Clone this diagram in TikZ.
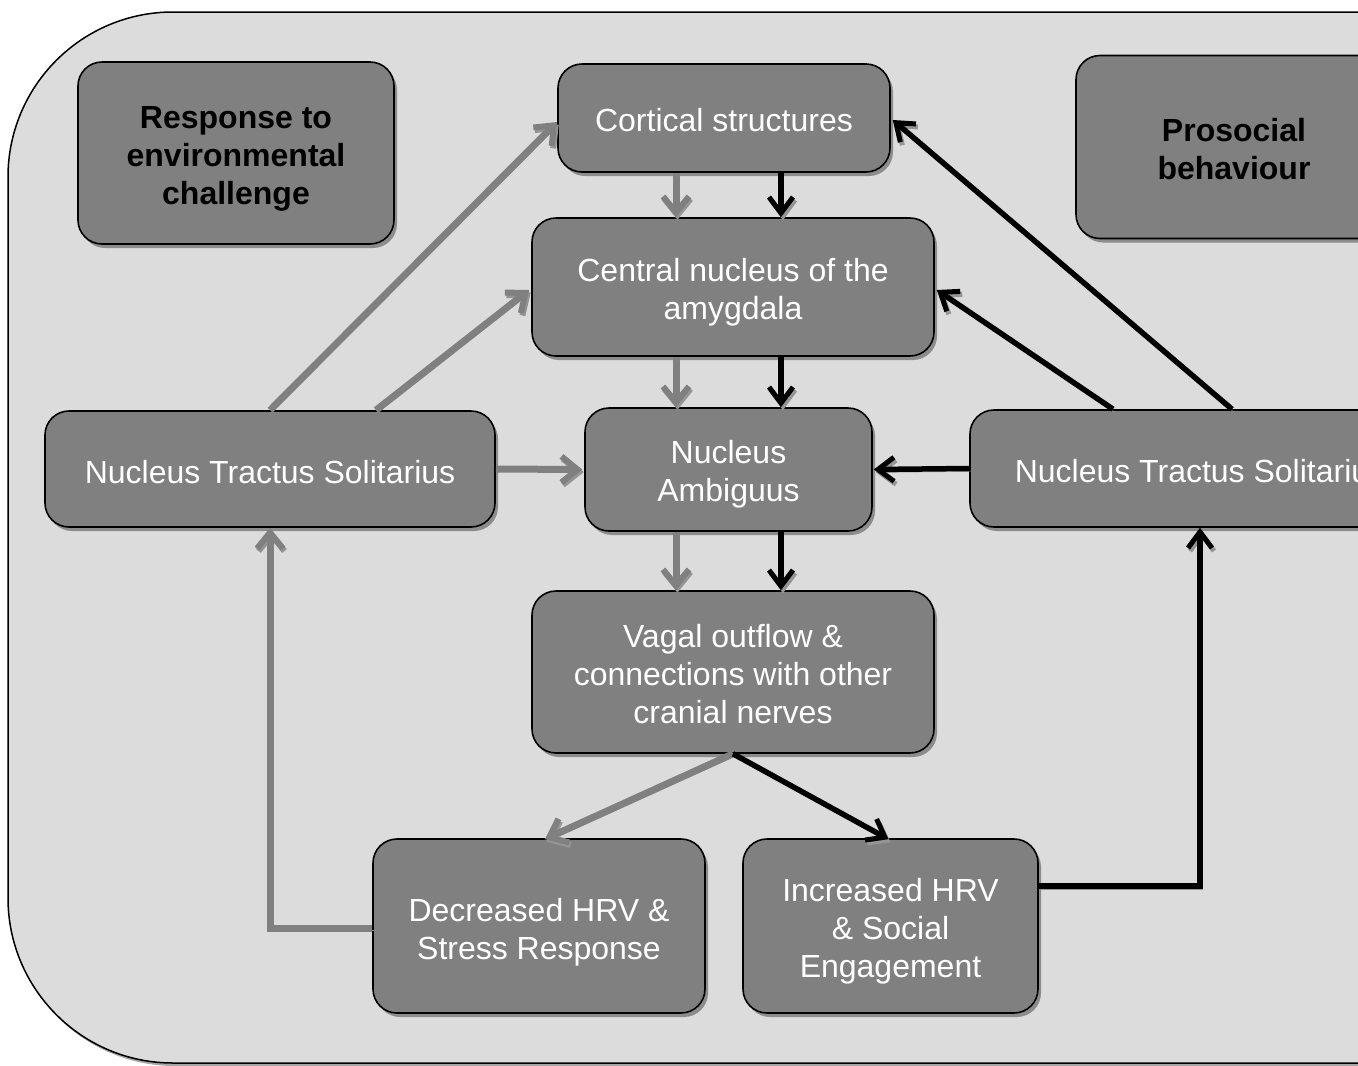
\documentclass[tikz,border=0pt]{standalone}
\usepackage{fontspec}
\setmainfont{Liberation Sans}
\usetikzlibrary{arrows.meta,shadows,calc}
\definecolor{panel}{HTML}{DCDCDC}
\definecolor{boxc}{HTML}{808080}
\definecolor{shad}{HTML}{8C8C8C}
\definecolor{ashad}{HTML}{959595}
\begin{document}
\begin{tikzpicture}[x=1pt,y=-1pt,
  box/.style={draw=black, line width=1.6pt, fill=boxc, rounded corners=24pt, inner sep=0pt,
    drop shadow={shadow xshift=3pt, shadow yshift=-4pt, fill=shad, opacity=1}},
  txt/.style={text=white, align=center, font=\fontsize{32}{38}\selectfont, inner sep=0pt},
  ttxt/.style={txt, text=black, font=\fontsize{32}{38}\selectfont\bfseries},
  garr/.style={draw=boxc, line width=7pt, -{Straight Barb[length=16pt,width=26pt,line width=6pt]},
    preaction={draw=ashad, transform canvas={shift={(1.5pt,-2.5pt)}}}},
  barr/.style={draw=black, line width=5.5pt, -{Straight Barb[length=16pt,width=24pt,line width=5pt]},
    preaction={draw=ashad, transform canvas={shift={(2pt,-3pt)}}}}
]
\useasboundingbox (0,0) rectangle (1358,1066);
\clip (0,0) rectangle (1358,1066);
% panel
\draw[line width=1.5pt, fill=panel, rounded corners=165pt,
  drop shadow={shadow xshift=2pt, shadow yshift=-3pt, fill=gray!70, opacity=1}]
  (8,12) rectangle (1600,1063);

% boxes
\node[box, minimum width=316pt, minimum height=182pt] (resp) at (236,153) {};
\node[box, minimum width=316pt, minimum height=183pt] (pros) at (1234,147) {};
\node[box, minimum width=332pt, minimum height=108pt] (cort) at (724,118) {};
\node[box, minimum width=402pt, minimum height=138pt] (cent) at (733,287) {};
\node[box, minimum width=450pt, minimum height=116pt] (ntsl) at (270,469) {};
\node[box, minimum width=287pt, minimum height=123pt] (amb) at (728.5,469.5) {};
\node[box, minimum width=460pt, minimum height=117pt] (ntsr) at (1200,468.5) {};
\node[box, minimum width=402pt, minimum height=162pt] (vag) at (733,672) {};
\node[box, minimum width=332pt, minimum height=174pt] (dec) at (539,926) {};
\node[box, minimum width=295pt, minimum height=174pt] (inc) at (890.5,926) {};

% texts
\node[ttxt] (respT) at ($(resp)+(0,6)$) {Response to\\environmental\\challenge};
\node[ttxt] (prosT) at ($(pros)+(0,2)$) {Prosocial\\behaviour};
\node[txt] (cortT) at ($(cort)+(0,2)$) {Cortical structures};
\node[txt] (centT) at ($(cent)+(0,5)$) {Central nucleus of the\\amygdala};
\node[txt] (ntslT) at ($(ntsl)+(0,3)$) {Nucleus Tractus Solitarius};
\node[txt] (ambT) at ($(amb)+(0,5)$) {Nucleus\\Ambiguus};
\node[txt] (ntsrT) at ($(ntsr)+(0,3)$) {Nucleus Tractus Solitarius};
\node[txt] (vagT) at ($(vag)+(0,2)$) {Vagal outflow \&\\connections with other\\cranial nerves};
\node[txt] (decT) at ($(dec)+(0,6)$) {Decreased HRV \&\\Stress Response};
\node[txt] (incT) at ($(inc)+(0,5)$) {Increased HRV\\\& Social\\Engagement};

\coordinate (gx) at (676,0);
\coordinate (bx) at (781,0);

% gray arrows
\draw[garr] (cort.south -| gx) -- (cent.north -| gx);
\draw[garr] (cent.south -| gx) -- (amb.north -| gx);
\draw[garr] (amb.south -| gx) -- (vag.north -| gx);
\draw[garr] (ntsl.north) -- ($(cort.west)+(0,4)$);
\draw[garr] ($(ntsl.north)+(106,0)$) -- ($(cent.west)+(-2,3)$);
\draw[garr] (ntsl.east) -- ($(amb.west)+(-2,0)$);
\draw[garr] (vag.south) -- ($(dec.north)+(6,1)$);
\draw[garr] ($(dec.west)+(0,2)$) -| (ntsl.south);

% black arrows
\draw[barr] (cort.south -| bx) -- (cent.north -| bx);
\draw[barr] (cent.south -| bx) -- (amb.north -| bx);
\draw[barr] (amb.south -| bx) -- (vag.north -| bx);
\draw[barr] ($(ntsr.north)+(32,0)$) -- ($(cort.east)+(2,2)$);
\draw[barr] ($(ntsr.north)+(-87,0)$) -- ($(cent.east)+(2,3)$);
\draw[barr] (ntsr.west) -- ($(amb.east)+(1,0)$);
\draw[barr] (vag.south) -- ($(inc.north)+(-2,1)$);
\draw[barr] ($(inc.east)+(0,-40)$) -| (ntsr.south);
\end{tikzpicture}
\end{document}
